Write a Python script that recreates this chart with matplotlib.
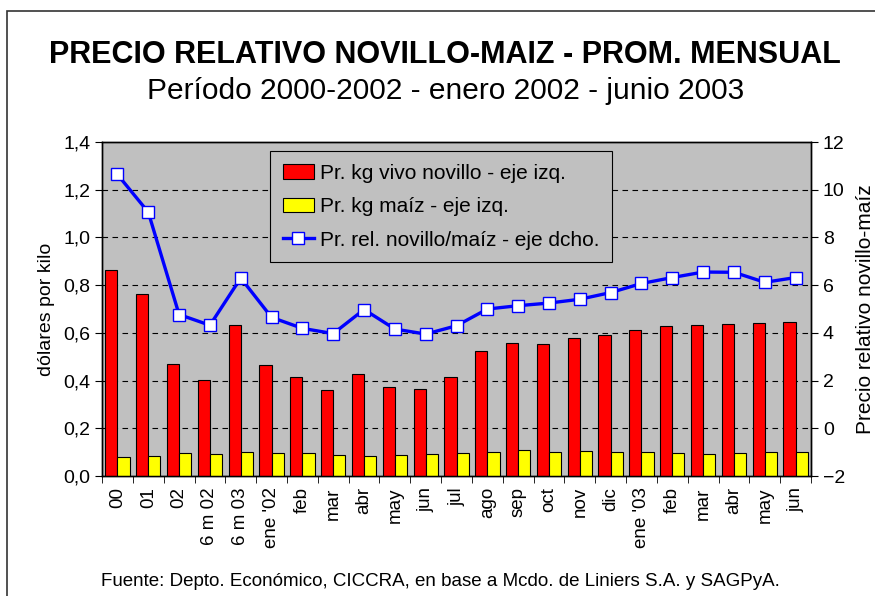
import matplotlib
matplotlib.use("Agg")
import matplotlib.pyplot as plt
from matplotlib.patches import Rectangle
import numpy as np

plt.rcParams['font.family'] = ['Liberation Sans', 'DejaVu Sans']

# datos
etiquetas = ["00", "01", "02", "6 m 02", "6 m 03", "ene '02", "feb", "mar", "abr", "may", "jun",
             "jul", "ago", "sep", "oct", "nov", "dic", "ene '03", "feb", "mar", "abr", "may", "jun"]
novillo = [0.865, 0.762, 0.468, 0.401, 0.633, 0.465, 0.413, 0.361, 0.428, 0.372, 0.366,
           0.417, 0.524, 0.559, 0.552, 0.579, 0.593, 0.611, 0.628, 0.631, 0.639, 0.642, 0.646]
maiz = [0.080, 0.083, 0.096, 0.091, 0.099, 0.098, 0.096, 0.090, 0.084, 0.088, 0.091,
        0.095, 0.102, 0.108, 0.102, 0.105, 0.102, 0.099, 0.096, 0.094, 0.096, 0.102, 0.100]
relacion = [10.64, 9.06, 4.77, 4.32, 6.30, 4.65, 4.19, 3.97, 4.98, 4.16, 3.95,
            4.30, 5.00, 5.14, 5.25, 5.41, 5.69, 6.07, 6.32, 6.55, 6.54, 6.12, 6.32]

x = np.arange(len(etiquetas))

fig = plt.figure(figsize=(8.75, 5.96), dpi=100)
ax = fig.add_axes([0.1166, 0.2013, 0.8103, 0.5604])
ax.set_facecolor('#c0c0c0')

w = 0.395
b1 = ax.bar(x - w / 2, novillo, w, color='#ff0000', edgecolor='black', linewidth=0.8,
            label='Pr. kg vivo novillo - eje izq.', zorder=3)
b2 = ax.bar(x + w / 2, maiz, w, color='#ffff00', edgecolor='black', linewidth=0.8,
            label='Pr. kg maíz - eje izq.', zorder=3)

ax.set_xlim(-0.5, len(etiquetas) - 0.5)
ax.set_ylim(0, 1.4)
ax.set_yticks(np.arange(0, 1.41, 0.2))
ax.set_yticklabels([f"{v:.1f}".replace('.', ',') for v in np.arange(0, 1.41, 0.2)])
for v in np.arange(0.2, 1.3, 0.2):
    ax.axhline(v, color='black', linestyle=(0, (5, 4)), linewidth=0.8, zorder=1)

ax.set_xticks(x)
ax.set_xticklabels(etiquetas, rotation=90, fontsize=13.5)
ax.set_xticks(np.arange(-0.5, len(etiquetas)), minor=True)
ax.tick_params(axis='x', which='major', length=0, pad=8)
ax.tick_params(axis='x', which='minor', length=5, direction='out')
ax.tick_params(axis='y', labelsize=14, length=5, direction='out')
ax.set_ylabel('dólares por kilo', fontsize=14, labelpad=6)

ax2 = ax.twinx()
ax2.set_ylim(-2, 12)
ax2.set_yticks(range(-2, 13, 2))
ax2.tick_params(axis='y', labelsize=14, length=5, direction='out')
l1, = ax2.plot(x, relacion, color='#0000ff', linewidth=2.4, marker='s', markersize=9,
               markerfacecolor='white', markeredgecolor='#0000ff', markeredgewidth=1.0,
               label='Pr. rel. novillo/maíz - eje dcho.', zorder=4)
ax2.set_ylabel('Precio relativo novillo-maíz', fontsize=15, labelpad=8)

for a in (ax, ax2):
    for s in a.spines.values():
        s.set_linewidth(1.0)

leg = ax2.legend([b1, b2, l1], [b1.get_label(), b2.get_label(), l1.get_label()],
                 loc='upper left', bbox_to_anchor=(0.237, 0.973), borderaxespad=0, fontsize=15,
                 facecolor='#c0c0c0', edgecolor='black', framealpha=1, fancybox=False,
                 handlelength=1.5, handletextpad=0.3, labelspacing=0.7, borderpad=0.6)
leg.get_frame().set_linewidth(0.8)

fig.text(0.509, 0.908, 'PRECIO RELATIVO NOVILLO-MAIZ - PROM. MENSUAL', ha='center', va='center',
         fontsize=22, fontweight='bold')
fig.text(0.509, 0.847, 'Período 2000-2002 - enero 2002 - junio 2003', ha='center', va='center',
         fontsize=21.5)
fig.text(0.503, 0.025, 'Fuente: Depto. Económico, CICCRA, en base a Mcdo. de Liniers S.A. y SAGPyA.',
         ha='center', va='center', fontsize=13.5)

fig.patches.append(Rectangle((0.008, -0.05), 1.1, 1.031, transform=fig.transFigure,
                             fill=False, edgecolor='#333333', linewidth=1.2))

fig.savefig('out.png', dpi=100)
